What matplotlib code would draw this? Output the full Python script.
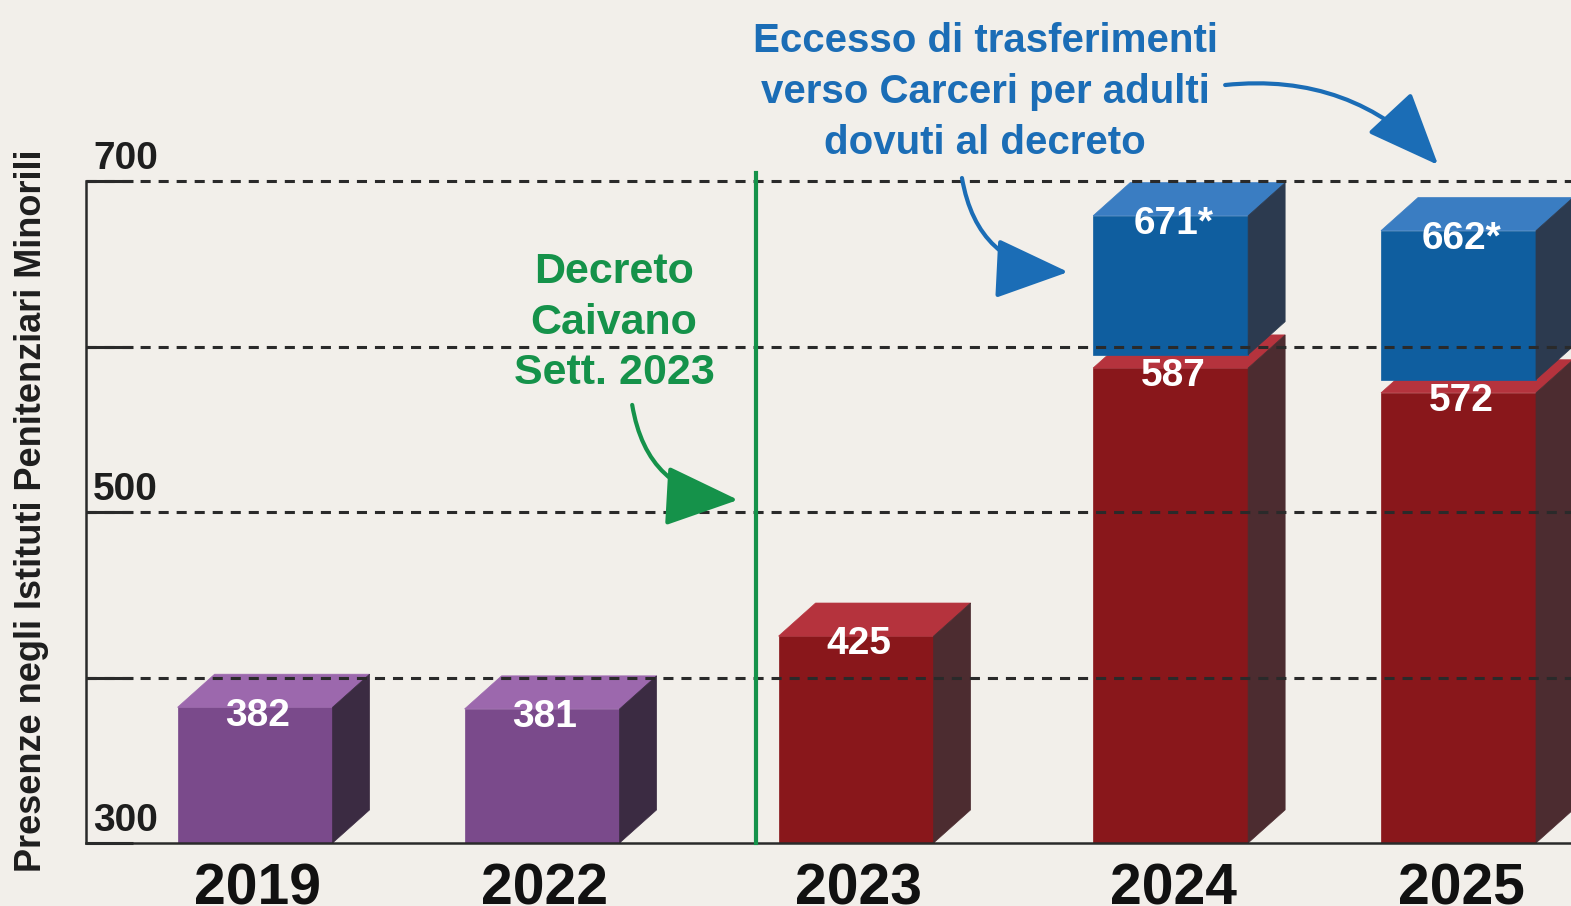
import numpy as np
import matplotlib
matplotlib.use('Agg')
import matplotlib.pyplot as plt
from matplotlib.patches import Polygon, FancyArrowPatch

plt.rcParams['font.family'] = ['Liberation Sans', 'DejaVu Sans']

# data
years = ['2019', '2022', '2023', '2024', '2025']
presenze = [382, 381, 425, 587, 572]
totale_con_trasferimenti = [None, None, None, 671, 662]
pre_decreto = [True, True, False, False, False]

# layout (x positions are uneven in the original)
xpos = [0, 1, 2.094, 3.19, 4.193]
w = 0.54        # front width
dx, dy = 0.129, 20   # depth of the 3d box
lift = 8

bg = '#F2EFEA'
purple = ('#7A4A8B', '#9C68AD', '#3B2B42')
red = ('#89171B', '#B5333D', '#4C2C30')
blue = ('#0F5E9F', '#3A7DC2', '#2C3A4F')
green = '#15924A'
bluetxt = '#1B6DB6'
dark = '#1E1E1E'


def box(ax, x, bottom, top, cols):
    front, topc, side = cols
    l, r = x - w / 2, x + w / 2
    pf = Polygon([(l, bottom), (r, bottom), (r, top), (l, top)], closed=True,
                 fc=front, ec=front, lw=0.5, zorder=2, clip_on=False)
    pt = Polygon([(l, top), (r, top), (r + dx, top + dy), (l + dx, top + dy)], closed=True,
                 fc=topc, ec=topc, lw=0.5, zorder=2, clip_on=False)
    ps = Polygon([(r, bottom), (r + dx, bottom + dy), (r + dx, top + dy), (r, top)], closed=True,
                 fc=side, ec=side, lw=0.5, zorder=2, clip_on=False)
    for p in (pf, pt, ps):
        ax.add_patch(p)


def value_label(ax, x, top, s):
    ax.annotate(s, xy=(x, top), xytext=(2, -6), textcoords='offset points',
                ha='center', va='center', color='white', fontsize=28,
                fontweight='bold', zorder=5, annotation_clip=False)


fig = plt.figure(figsize=(15.71, 9.06), dpi=100, facecolor=bg)
ax = fig.add_axes([86 / 1571, 63 / 906, 1485 / 1571, 662 / 906])
ax.set_facecolor(bg)
ax.set_xlim(-0.589, 4.585)
ax.set_ylim(300, 700)

for i, yr in enumerate(years):
    x = xpos[i]
    cols = purple if pre_decreto[i] else red
    box(ax, x, 300, presenze[i], cols)
    if totale_con_trasferimenti[i] is not None:
        box(ax, x, presenze[i] + lift, totale_con_trasferimenti[i] + lift, blue)
        value_label(ax, x, totale_con_trasferimenti[i] + lift, f'{totale_con_trasferimenti[i]}*')
    value_label(ax, x, presenze[i], str(presenze[i]))
    ax.annotate(yr, xy=(x, 300), xytext=(2, -14), textcoords='offset points',
                ha='center', va='top', fontsize=41, fontweight='bold', color='#111111',
                annotation_clip=False)

# dashed grid over the boxes
for v in [400, 500, 600, 700]:
    ax.axhline(v, color='#2A2A2A', lw=2.2, ls=(0, (3.3, 2.6)), zorder=3, clip_on=False)

ax.set_yticks([300, 400, 500, 600, 700])
ax.set_yticklabels([])
ax.set_xticks([])
ax.tick_params(axis='y', direction='in', length=34, width=2.2, color='#2A2A2A')
for s in ['top', 'right']:
    ax.spines[s].set_visible(False)
for s in ['left', 'bottom']:
    ax.spines[s].set_linewidth(1.8)
    ax.spines[s].set_color('#2A2A2A')
    ax.spines[s].set_zorder(3)

for v in [300, 500, 700]:
    ax.annotate(str(v), xy=(0, v), xycoords=('axes fraction', 'data'),
                xytext=(5, 3), textcoords='offset points', ha='left', va='bottom',
                fontsize=28, fontweight='bold', color=dark, annotation_clip=False)

fig.text(32 / 1571, 1 - 511 / 906, 'Presenze negli Istituti Penitenziari Minorili',
         rotation=90, ha='center', va='center', fontsize=26, fontweight='bold', color=dark)

# decreto Caivano
decreto_x = 1.746
ax.plot([decreto_x, decreto_x], [300, 705], color=green, lw=3, zorder=4, clip_on=False)
ax.text(1.251, 614.5, 'Decreto\nCaivano\nSett. 2023', ha='center', va='center',
        fontsize=31, fontweight='bold', color=green, linespacing=1.33)
ax.add_patch(FancyArrowPatch((1.314, 564.7), (1.683, 507.3),
                             connectionstyle='arc3,rad=0.4',
                             arrowstyle='-|>,head_length=2.3,head_width=0.95',
                             mutation_scale=20, color=green, lw=3, shrinkA=0, shrinkB=0,
                             zorder=4, clip_on=False))

ax.text(2.544, 753.8, 'Eccesso di trasferimenti\nverso Carceri per adulti\ndovuti al decreto',
        ha='center', va='center', fontsize=29, fontweight='bold', color=bluetxt,
        linespacing=1.42, clip_on=False)
ax.add_patch(FancyArrowPatch((2.463, 701.8), (2.833, 645),
                             connectionstyle='arc3,rad=0.4',
                             arrowstyle='-|>,head_length=2.3,head_width=0.95',
                             mutation_scale=20, color=bluetxt, lw=3, shrinkA=0, shrinkB=0,
                             zorder=4, clip_on=False))
ax.add_patch(FancyArrowPatch((3.380, 758), (4.122, 709.7),
                             connectionstyle='arc3,rad=-0.25',
                             arrowstyle='-|>,head_length=2.3,head_width=0.95',
                             mutation_scale=20, color=bluetxt, lw=3, shrinkA=0, shrinkB=0,
                             zorder=4, clip_on=False))

fig.savefig('out.png', dpi=100, facecolor=bg)
